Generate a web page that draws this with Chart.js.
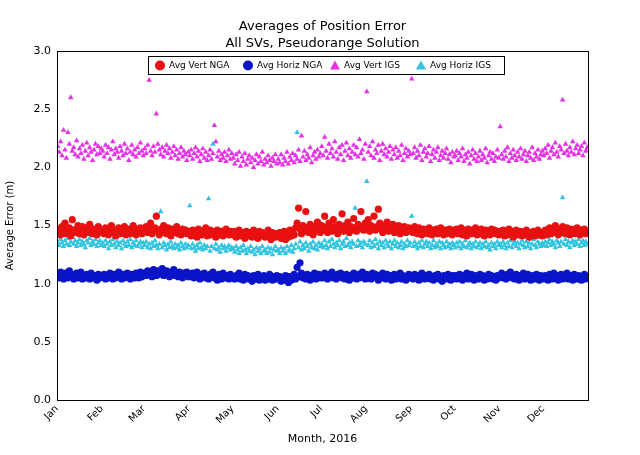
<!DOCTYPE html>
<html>
<head>
<meta charset="utf-8">
<script src="https://cdn.jsdelivr.net/npm/chart.js@4.4.1/dist/chart.umd.min.js"></script>
<style>
  html, body { margin: 0; padding: 0; background: #fff; }
  #wrap { width: 640px; height: 455px; }
</style>
</head>
<body>
<div id="wrap"><canvas id="errChart" width="640" height="455"></canvas></div>
<script>
// month names and first day-of-year for 2016
const monthLabels = ['Jan', 'Feb', 'Mar', 'Apr', 'May', 'Jun', 'Jul', 'Aug', 'Sep', 'Oct', 'Nov', 'Dec'];
const monthStarts = [0, 31, 60, 91, 121, 152, 182, 213, 244, 274, 305, 335];
const yTicks = [0, 0.5, 1.0, 1.5, 2.0, 2.5, 3.0];

// daily values, one row per month
const vertNGA = [
  1.47,1.44,1.42,1.49,1.46,1.52,1.43,1.45,1.48,1.41,1.55,1.46,1.44,1.47,1.50,1.43,1.45,1.49,1.42,1.46,1.48,1.44,1.51,1.45,1.43,1.47,1.46,1.42,1.49,1.45,1.44,
  1.46,1.43,1.48,1.45,1.42,1.47,1.50,1.44,1.46,1.41,1.45,1.48,1.43,1.46,1.44,1.49,1.42,1.45,1.47,1.43,1.46,1.50,1.44,1.42,1.47,1.45,1.48,1.43,1.46,
  1.45,1.49,1.44,1.47,1.52,1.43,1.46,1.48,1.58,1.45,1.42,1.47,1.44,1.50,1.46,1.43,1.48,1.45,1.41,1.47,1.44,1.46,1.49,1.43,1.45,1.42,1.47,1.44,1.46,1.43,1.45,
  1.44,1.41,1.46,1.43,1.45,1.40,1.47,1.44,1.42,1.45,1.43,1.48,1.41,1.44,1.46,1.42,1.45,1.43,1.40,1.46,1.44,1.42,1.45,1.41,1.43,1.47,1.44,1.42,1.45,1.43,
  1.42,1.45,1.40,1.43,1.46,1.41,1.44,1.42,1.39,1.45,1.43,1.41,1.44,1.40,1.46,1.42,1.43,1.39,1.45,1.41,1.44,1.42,1.40,1.43,1.46,1.41,1.38,1.44,1.42,1.40,1.43,
  1.41,1.44,1.39,1.42,1.45,1.38,1.43,1.40,1.46,1.41,1.44,1.42,1.48,1.52,1.65,1.47,1.43,1.50,1.45,1.62,1.48,1.44,1.51,1.46,1.42,1.49,1.45,1.53,1.47,1.44,
  1.50,1.46,1.58,1.48,1.44,1.52,1.47,1.45,1.55,1.49,1.46,1.43,1.51,1.48,1.60,1.45,1.50,1.47,1.53,1.44,1.49,1.46,1.56,1.48,1.45,1.51,1.47,1.62,1.49,1.46,1.52,
  1.48,1.55,1.45,1.50,1.47,1.58,1.46,1.49,1.64,1.52,1.47,1.44,1.50,1.48,1.53,1.45,1.49,1.46,1.51,1.44,1.48,1.46,1.50,1.43,1.47,1.45,1.49,1.44,1.46,1.48,1.45,
  1.47,1.44,1.49,1.46,1.43,1.48,1.45,1.42,1.47,1.44,1.46,1.43,1.48,1.45,1.42,1.46,1.44,1.47,1.43,1.45,1.48,1.44,1.42,1.46,1.43,1.45,1.47,1.44,1.42,1.46,
  1.44,1.47,1.43,1.45,1.48,1.42,1.46,1.44,1.41,1.47,1.45,1.43,1.46,1.44,1.48,1.42,1.45,1.43,1.47,1.44,1.41,1.46,1.43,1.45,1.42,1.47,1.44,1.46,1.43,1.45,1.42,
  1.45,1.43,1.46,1.41,1.44,1.42,1.47,1.43,1.45,1.40,1.44,1.46,1.42,1.43,1.45,1.41,1.44,1.42,1.46,1.43,1.40,1.44,1.42,1.45,1.41,1.43,1.46,1.42,1.44,1.41,
  1.43,1.46,1.42,1.45,1.48,1.43,1.46,1.44,1.50,1.45,1.42,1.47,1.44,1.49,1.46,1.43,1.48,1.45,1.42,1.47,1.44,1.46,1.43,1.48,1.45,1.42,1.46,1.44,1.47,1.43,1.45
];
const horizNGA = [
  1.08,1.05,1.10,1.06,1.04,1.09,1.07,1.05,1.11,1.06,1.08,1.04,1.07,1.09,1.05,1.06,1.10,1.04,1.07,1.05,1.08,1.06,1.04,1.09,1.05,1.07,1.06,1.03,1.08,1.05,1.07,
  1.06,1.08,1.04,1.07,1.05,1.09,1.06,1.04,1.08,1.05,1.07,1.10,1.06,1.04,1.08,1.05,1.07,1.09,1.06,1.04,1.08,1.06,1.05,1.09,1.07,1.05,1.10,1.06,1.08,
  1.09,1.07,1.11,1.08,1.10,1.06,1.12,1.09,1.07,1.11,1.08,1.10,1.13,1.07,1.09,1.11,1.08,1.06,1.10,1.08,1.12,1.07,1.09,1.06,1.10,1.08,1.05,1.09,1.07,1.10,1.06,
  1.08,1.06,1.09,1.05,1.07,1.10,1.06,1.04,1.08,1.06,1.09,1.05,1.07,1.04,1.08,1.06,1.10,1.05,1.07,1.03,1.08,1.06,1.04,1.09,1.05,1.07,1.06,1.04,1.08,1.05,
  1.06,1.04,1.07,1.05,1.09,1.04,1.06,1.03,1.08,1.05,1.07,1.04,1.06,1.02,1.07,1.05,1.04,1.08,1.03,1.06,1.05,1.07,1.03,1.06,1.04,1.08,1.05,1.03,1.06,1.04,1.07,
  1.04,1.06,1.02,1.05,1.03,1.07,1.04,1.01,1.06,1.03,1.05,1.08,1.04,1.14,1.06,1.18,1.09,1.05,1.07,1.04,1.08,1.06,1.03,1.07,1.05,1.09,1.04,1.06,1.08,1.05,
  1.07,1.05,1.09,1.06,1.04,1.08,1.06,1.10,1.05,1.07,1.04,1.08,1.06,1.09,1.05,1.07,1.04,1.08,1.06,1.03,1.07,1.05,1.09,1.06,1.04,1.08,1.05,1.07,1.10,1.06,1.04,
  1.08,1.05,1.07,1.04,1.09,1.06,1.08,1.05,1.03,1.07,1.05,1.09,1.06,1.04,1.08,1.05,1.07,1.03,1.06,1.08,1.04,1.06,1.05,1.09,1.04,1.07,1.05,1.03,1.06,1.08,1.05,
  1.06,1.04,1.08,1.05,1.07,1.03,1.06,1.09,1.05,1.04,1.07,1.05,1.08,1.04,1.06,1.03,1.07,1.05,1.08,1.04,1.06,1.02,1.07,1.05,1.04,1.08,1.06,1.03,1.07,1.05,
  1.07,1.04,1.06,1.08,1.05,1.03,1.07,1.05,1.09,1.04,1.06,1.08,1.05,1.03,1.07,1.06,1.04,1.08,1.05,1.07,1.03,1.06,1.04,1.08,1.05,1.07,1.04,1.06,1.03,1.07,1.05,
  1.06,1.09,1.05,1.07,1.04,1.08,1.06,1.10,1.05,1.07,1.04,1.08,1.06,1.03,1.07,1.05,1.09,1.04,1.06,1.08,1.05,1.03,1.07,1.05,1.04,1.08,1.06,1.03,1.07,1.05,
  1.04,1.07,1.05,1.03,1.08,1.06,1.04,1.09,1.05,1.07,1.03,1.06,1.08,1.04,1.06,1.05,1.09,1.04,1.07,1.05,1.03,1.08,1.06,1.04,1.07,1.05,1.03,1.06,1.08,1.04,1.06
];
const vertIGS = [
  2.18,2.13,2.22,2.10,2.32,2.15,2.08,2.30,2.20,2.60,2.14,2.17,2.11,2.23,2.09,2.16,2.12,2.19,2.07,2.14,2.21,2.10,2.17,2.13,2.06,2.15,2.20,2.11,2.18,2.12,2.16,
  2.14,2.09,2.19,2.12,2.17,2.07,2.15,2.22,2.11,2.16,2.13,2.08,2.18,2.14,2.10,2.20,2.12,2.16,2.06,2.13,2.19,2.11,2.15,2.09,2.17,2.12,2.21,2.14,2.10,
  2.16,2.12,2.19,2.75,2.14,2.10,2.18,2.13,2.46,2.20,2.15,2.11,2.17,2.09,2.14,2.19,2.12,2.16,2.08,2.13,2.18,2.10,2.15,2.07,2.12,2.17,2.09,2.14,2.11,2.06,2.13,
  2.10,2.15,2.07,2.12,2.17,2.09,2.14,2.05,2.11,2.16,2.08,2.13,2.06,2.10,2.15,2.07,2.12,2.36,2.22,2.09,2.14,2.06,2.11,2.08,2.13,2.05,2.10,2.15,2.07,2.12,
  2.08,2.03,2.11,2.06,2.13,2.01,2.09,2.05,2.12,2.02,2.07,2.10,2.04,2.08,2.00,2.06,2.11,2.03,2.09,2.05,2.13,2.02,2.07,2.04,2.10,2.06,2.01,2.08,2.05,2.11,2.03,
  2.07,2.04,2.11,2.02,2.08,2.05,2.13,2.03,2.09,2.06,2.12,2.04,2.10,2.07,2.15,2.05,2.27,2.09,2.14,2.06,2.11,2.08,2.17,2.04,2.10,2.13,2.07,2.15,2.09,2.12,
  2.18,2.10,2.26,2.14,2.08,2.20,2.12,2.16,2.09,2.22,2.13,2.07,2.17,2.11,2.19,2.06,2.14,2.21,2.10,2.16,2.08,2.13,2.19,2.11,2.17,2.09,2.24,2.12,2.15,2.07,2.20,
  2.65,2.13,2.18,2.10,2.22,2.08,2.15,2.12,2.19,2.06,2.14,2.20,2.11,2.16,2.09,2.13,2.18,2.07,2.15,2.11,2.17,2.08,2.14,2.10,2.19,2.06,2.12,2.16,2.09,2.14,2.11,
  2.76,2.12,2.17,2.08,2.14,2.10,2.19,2.06,2.13,2.16,2.09,2.12,2.18,2.05,2.11,2.15,2.08,2.13,2.17,2.06,2.10,2.14,2.08,2.12,2.16,2.07,2.11,2.04,2.13,2.09,
  2.10,2.14,2.06,2.12,2.09,2.16,2.05,2.11,2.08,2.13,2.03,2.10,2.15,2.07,2.12,2.05,2.09,2.14,2.06,2.11,2.08,2.16,2.04,2.10,2.13,2.07,2.12,2.05,2.09,2.15,2.08,
  2.35,2.11,2.07,2.14,2.09,2.17,2.05,2.12,2.08,2.15,2.10,2.06,2.13,2.09,2.16,2.07,2.11,2.14,2.05,2.10,2.13,2.08,2.17,2.06,2.12,2.09,2.15,2.07,2.11,2.14,
  2.10,2.16,2.12,2.19,2.08,2.14,2.17,2.11,2.21,2.13,2.09,2.18,2.15,2.58,2.12,2.20,2.14,2.10,2.17,2.13,2.22,2.11,2.16,2.19,2.12,2.15,2.18,2.10,2.21,2.14,2.17
];
const horizIGS = [
  1.36,1.33,1.38,1.35,1.32,1.37,1.34,1.39,1.33,1.36,1.40,1.34,1.37,1.32,1.35,1.38,1.33,1.36,1.34,1.31,1.37,1.35,1.39,1.33,1.36,1.34,1.38,1.32,1.35,1.37,1.33,
  1.35,1.32,1.37,1.34,1.30,1.36,1.33,1.38,1.34,1.31,1.36,1.33,1.35,1.30,1.37,1.34,1.32,1.36,1.33,1.38,1.31,1.35,1.33,1.37,1.32,1.34,1.36,1.31,1.35,
  1.33,1.36,1.31,1.34,1.30,1.35,1.32,1.37,1.33,1.30,1.34,1.62,1.31,1.35,1.33,1.29,1.34,1.31,1.36,1.32,1.30,1.34,1.31,1.33,1.29,1.35,1.32,1.30,1.34,1.31,1.33,
  1.67,1.30,1.34,1.31,1.28,1.33,1.30,1.35,1.31,1.29,1.33,1.30,1.32,1.73,1.28,1.32,2.20,1.30,1.34,1.29,1.31,1.27,1.33,1.30,1.32,1.28,1.31,1.33,1.29,1.31,
  1.30,1.27,1.32,1.29,1.26,1.31,1.28,1.33,1.29,1.26,1.30,1.28,1.32,1.27,1.29,1.25,1.31,1.28,1.30,1.26,1.32,1.28,1.29,1.26,1.31,1.27,1.30,1.25,1.29,1.32,1.28,
  1.29,1.26,1.31,1.28,1.30,1.26,1.32,1.28,1.29,1.33,1.27,1.30,1.34,2.30,1.31,1.36,1.29,1.33,1.30,1.35,1.32,1.28,1.34,1.31,1.36,1.30,1.33,1.29,1.35,1.32,
  1.34,1.31,1.37,1.33,1.30,1.36,1.32,1.38,1.34,1.31,1.35,1.33,1.37,1.30,1.34,1.36,1.32,1.39,1.33,1.35,1.31,1.36,1.34,1.65,1.32,1.37,1.33,1.35,1.31,1.36,1.34,
  1.88,1.33,1.37,1.31,1.35,1.32,1.38,1.34,1.30,1.36,1.33,1.35,1.31,1.37,1.34,1.32,1.36,1.30,1.34,1.37,1.32,1.35,1.31,1.33,1.36,1.30,1.34,1.32,1.37,1.33,1.35,
  1.58,1.32,1.36,1.33,1.30,1.35,1.32,1.37,1.31,1.34,1.36,1.32,1.35,1.30,1.33,1.37,1.31,1.34,1.32,1.36,1.30,1.35,1.33,1.31,1.36,1.32,1.34,1.30,1.35,1.33,
  1.31,1.35,1.32,1.36,1.30,1.34,1.32,1.37,1.31,1.33,1.35,1.30,1.34,1.32,1.36,1.31,1.33,1.35,1.30,1.34,1.32,1.36,1.31,1.33,1.29,1.35,1.32,1.34,1.30,1.36,1.33,
  1.34,1.31,1.36,1.33,1.30,1.35,1.32,1.37,1.31,1.34,1.36,1.32,1.35,1.30,1.34,1.37,1.33,1.31,1.36,1.32,1.35,1.30,1.34,1.38,1.33,1.31,1.36,1.34,1.32,1.35,
  1.33,1.36,1.32,1.35,1.38,1.33,1.36,1.34,1.31,1.37,1.35,1.32,1.36,1.74,1.34,1.38,1.33,1.36,1.31,1.35,1.37,1.33,1.36,1.34,1.38,1.32,1.35,1.37,1.33,1.36,1.34
];

const toPoints = vals => vals.map((v, i) => ({ x: i + 0.5, y: v }));

const series = [
  { label: 'Avg Vert NGA', data: vertNGA, color: '#e81010', style: 'circle' },
  { label: 'Avg Horiz NGA', data: horizNGA, color: '#0a14c8', style: 'circle' },
  { label: 'Avg Vert IGS', data: vertIGS, color: '#e830e8', style: 'triangle' },
  { label: 'Avg Horiz IGS', data: horizIGS, color: '#30c4e0', style: 'triangle' }
];

const FONT = 'DejaVu Sans';

// title, frame, x label and matplotlib-style legend box
const decorPlugin = {
  id: 'decor',
  afterDraw(chart) {
    const { ctx, chartArea: a } = chart;
    ctx.save();
    ctx.strokeStyle = '#000';
    ctx.lineWidth = 1;
    ctx.strokeRect(a.left + 0.5, a.top + 0.5, a.right - a.left, a.bottom - a.top);

    ctx.fillStyle = '#000';
    ctx.textAlign = 'center';
    ctx.font = '13px ' + FONT;
    const cx = (a.left + a.right) / 2;
    ctx.fillText('Averages of Position Error', cx, 30);
    ctx.fillText('All SVs, Pseudorange Solution', cx, 47);

    ctx.font = '11px ' + FONT;
    ctx.fillText('Month, 2016', cx, 442);

    // legend
    const lx = 148, ly = 56, lw = 356, lh = 18;
    ctx.fillStyle = '#fff';
    ctx.fillRect(lx, ly, lw, lh);
    ctx.strokeRect(lx + 0.5, ly + 0.5, lw, lh);
    ctx.font = '9px ' + FONT;
    ctx.textAlign = 'left';
    ctx.textBaseline = 'middle';
    const xs = [lx + 12, lx + 100, lx + 187, lx + 273];
    series.forEach((s, i) => {
      const mx = xs[i], my = ly + lh / 2 + 0.5;
      ctx.fillStyle = s.color;
      ctx.beginPath();
      if (s.style === 'circle') {
        ctx.arc(mx, my, 5, 0, Math.PI * 2);
      } else {
        ctx.moveTo(mx, my - 5);
        ctx.lineTo(mx + 5, my + 4);
        ctx.lineTo(mx - 5, my + 4);
        ctx.closePath();
      }
      ctx.fill();
      ctx.fillStyle = '#000';
      ctx.fillText(s.label, mx + 9, my);
    });
    ctx.restore();
  }
};

new Chart(document.getElementById('errChart'), {
  type: 'scatter',
  data: {
    datasets: series.map(s => ({
      label: s.label,
      data: toPoints(s.data),
      pointStyle: s.style,
      pointRadius: s.style === 'circle' ? 3.6 : 3.2,
      backgroundColor: s.color,
      borderColor: s.color,
      borderWidth: 0
    }))
  },
  options: {
    responsive: false,
    animation: false,
    layout: { padding: { top: 51, right: 52, left: 0, bottom: 0 } },
    scales: {
      x: {
        type: 'linear',
        min: 0,
        max: 366,
        grid: { display: false, drawTicks: false },
        border: { display: false },
        afterBuildTicks(axis) { axis.ticks = monthStarts.map(v => ({ value: v })); },
        afterFit(axis) { axis.height = 55; },
        ticks: {
          autoSkip: false,
          maxRotation: 45,
          minRotation: 45,
          color: '#000',
          font: { family: FONT, size: 10 },
          callback: v => monthLabels[monthStarts.indexOf(v)]
        }
      },
      y: {
        min: 0,
        max: 3,
        grid: { display: false, drawTicks: false },
        border: { display: false },
        afterBuildTicks(axis) { axis.ticks = yTicks.map(v => ({ value: v })); },
        afterFit(axis) { axis.width = 57; },
        ticks: {
          color: '#000',
          padding: 6,
          font: { family: FONT, size: 11 },
          callback: v => v.toFixed(1)
        },
        title: { display: true, text: 'Average Error (m)', color: '#000', font: { family: FONT, size: 10 } }
      }
    },
    plugins: {
      legend: { display: false },
      tooltip: { enabled: false }
    }
  },
  plugins: [decorPlugin]
});
</script>
</body>
</html>
